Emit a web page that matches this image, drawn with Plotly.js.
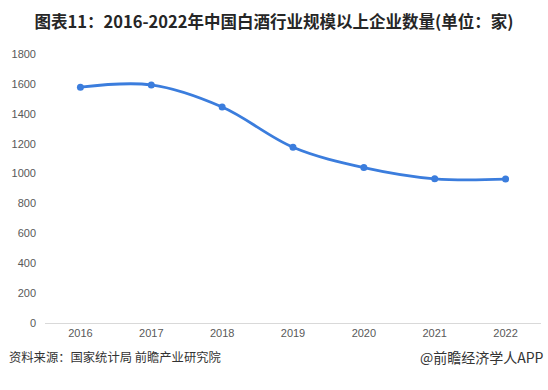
<!DOCTYPE html>
<html><head><meta charset="utf-8">
<script src="https://cdn.plot.ly/plotly-3.0.1.min.js"></script>
<style>html,body{margin:0;padding:0;background:#fff}</style>
</head><body><div id="chart" style="width:548px;height:390px"></div>
<script>
const years = ["2016","2017","2018","2019","2020","2021","2022"];
const counts = [1578, 1593, 1445, 1176, 1040, 965, 963];
const yTicks = [0,200,400,600,800,1000,1200,1400,1600,1800];

const trace = {
  x: years, y: counts, type: "scatter", mode: "lines+markers",
  line: {color: "#3b7ddd", width: 2.8, shape: "spline", smoothing: 1},
  marker: {color: "#3b7ddd", size: 7}
};
const layout = {
  width: 548, height: 390,
  margin: {l: 45, r: 7, t: 54, b: 67},
  paper_bgcolor: "#fff", plot_bgcolor: "#fff",
  font: {family: "Liberation Sans, Arial, sans-serif", color: "#595959", size: 11},
  showlegend: false,
  xaxis: {type: "category", range: [-0.5, 6.5], showgrid: false, zeroline: false,
    showline: true, linecolor: "#d9d9d9", linewidth: 1, ticks: "", tickfont: {size: 11, color: "#595959"}},
  yaxis: {range: [0, 1800], tickvals: yTicks, showgrid: false, zeroline: false, showline: false,
    ticks: "", tickfont: {size: 11, color: "#595959"}, ticklabelstandoff: 8},
  title: {text: "<b>图表11：2016-2022年中国白酒行业规模以上企业数量(单位：家)</b>",
    font: {family: "Noto Sans CJK SC, sans-serif", size: 16.5, color: "#262626"},
    x: 0.5, xanchor: "center", y: 0.943, yanchor: "middle"},
  annotations: [
    {text: "资料来源：国家统计局 前瞻产业研究院", xref: "paper", yref: "paper", x: -38/496, y: -34/269,
     xanchor: "left", yanchor: "middle", showarrow: false,
     font: {family: "Noto Sans CJK SC, sans-serif", size: 12.3, color: "#333"}},
    {text: "@前瞻经济学人APP", xref: "paper", yref: "paper", x: 1 + 5/496, y: -34/269,
     xanchor: "right", yanchor: "middle", showarrow: false,
     font: {family: "Noto Sans CJK SC, sans-serif", size: 14, color: "#333"}}
  ]
};
Plotly.newPlot("chart", [trace], layout, {displayModeBar: false, staticPlot: true});
</script></body></html>
